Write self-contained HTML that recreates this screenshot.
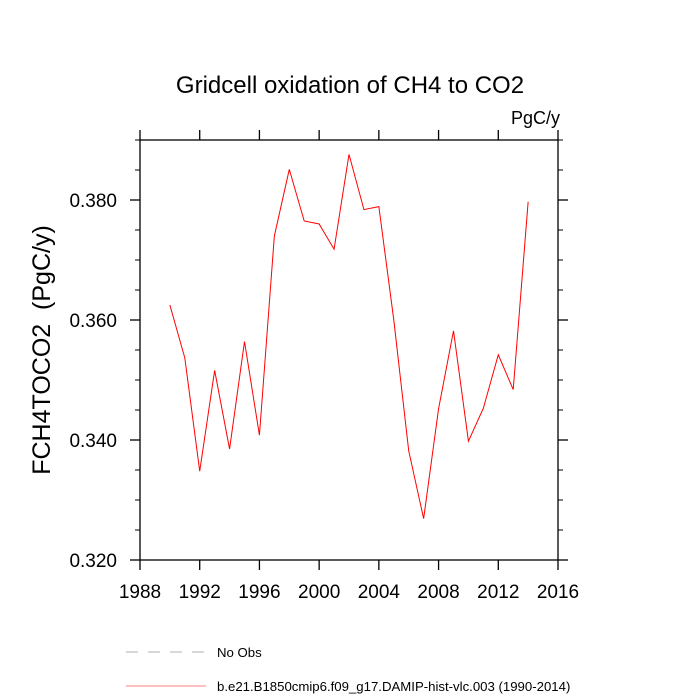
<!DOCTYPE html>
<html><head><meta charset="utf-8"><style>body{margin:0;background:#fff}svg{display:block;font-family:"Liberation Sans",sans-serif}</style></head>
<body>
<svg id="c" width="700" height="700">
<text x="350" y="93" text-anchor="middle" font-size="24">Gridcell oxidation of CH4 to CO2</text>
<text x="560" y="124" text-anchor="end" font-size="18">PgC/y</text>
<text transform="translate(50,350) rotate(-90)" text-anchor="middle" font-size="25">FCH4TOCO2&#160;&#160;(PgC/y)</text>
<g id="axes"></g>
<g id="series"></g>
<g>
<line x1="126" y1="652" x2="206" y2="652" stroke="#999" stroke-width="0.8" stroke-dasharray="12,10"/>
<text x="217" y="657" font-size="13.2">No Obs</text>
<line x1="126" y1="686" x2="206" y2="686" stroke="#f55" stroke-width="0.8"/>
<text x="217" y="691" font-size="13.2">b.e21.B1850cmip6.f09_g17.DAMIP-hist-vlc.003 (1990-2014)</text>
</g>
</svg>
<script>
const years=[1990,1991,1992,1993,1994,1995,1996,1997,1998,1999,2000,2001,2002,2003,2004,2005,2006,2007,2008,2009,2010,2011,2012,2013,2014];
const values=[0.3625,0.3537,0.3348,0.3516,0.3385,0.3564,0.3408,0.3740,0.3851,0.3765,0.3760,0.3718,0.3876,0.3784,0.3789,0.3600,0.3382,0.3269,0.3452,0.3582,0.3398,0.3453,0.3542,0.3484,0.3797];
const xTicks=[1988,1992,1996,2000,2004,2008,2012,2016];
const yTicks=[0.320,0.340,0.360,0.380];
const yMinor=[0.325,0.330,0.335,0.345,0.350,0.355,0.365,0.370,0.375,0.385,0.390];
const L=140,R=558,T=140,B=560;
const xs=v=>L+(v-1988)/(2016-1988)*(R-L);
const ys=v=>B-(v-0.320)/(0.390-0.320)*(B-T);
const NS='http://www.w3.org/2000/svg';
function mk(t,a,p){const e=document.createElementNS(NS,t);for(const k in a)e.setAttribute(k,a[k]);p.appendChild(e);return e;}
const ax=document.getElementById('axes');
const fr=mk('rect',{x:L,y:T,width:R-L,height:B-T,fill:'none',stroke:'#000','stroke-width':1.3},ax);


xTicks.forEach(v=>{const x=xs(v);
const a=mk('line',{x1:x,y1:B,x2:x,y2:B+10,stroke:'#000','stroke-width':1.3},ax);


const b=mk('line',{x1:x,y1:T,x2:x,y2:T-10,stroke:'#000','stroke-width':1.3},ax);


const t=mk('text',{x:x,y:B+38,'text-anchor':'middle','font-size':19},ax);t.textContent=v;

});
yTicks.forEach(v=>{const y=ys(v);
const a=mk('line',{x1:L,y1:y,x2:L-10,y2:y,stroke:'#000','stroke-width':1.3},ax);


const b=mk('line',{x1:R,y1:y,x2:R+10,y2:y,stroke:'#000','stroke-width':1.3},ax);


const t=mk('text',{x:L-23,y:y+7,'text-anchor':'end','font-size':19},ax);t.textContent=v.toFixed(3);

});
yMinor.forEach(v=>{const y=ys(v);
const a=mk('line',{x1:L,y1:y,x2:L-5,y2:y,stroke:'#000'},ax);


const b=mk('line',{x1:R,y1:y,x2:R+5,y2:y,stroke:'#000'},ax);

});
const pl=mk('polyline',{points:years.map((y,i)=>xs(y)+','+ys(values[i])).join(' '),fill:'none',stroke:'red','stroke-width':1},document.getElementById('series'));


</script>
</body></html>
